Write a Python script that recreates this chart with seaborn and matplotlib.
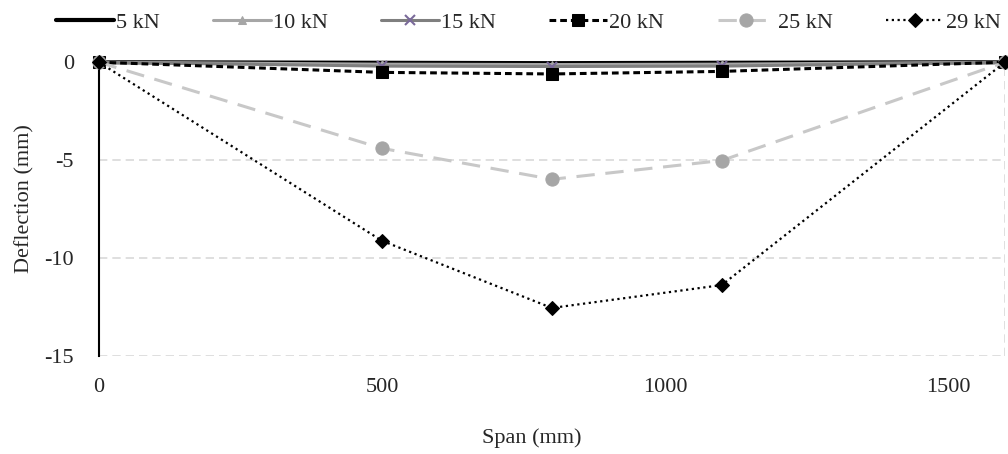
import matplotlib
matplotlib.use("Agg")
import matplotlib.pyplot as plt
import seaborn as sns
import pandas as pd

span_mm = [0, 500, 800, 1100, 1600]
load_labels = ["5 kN", "10 kN", "15 kN", "20 kN", "25 kN", "29 kN"]
defl_5kn = [0, -0.03, -0.05, -0.03, 0]
defl_10kn = [0, -0.10, -0.12, -0.10, 0]
defl_15kn = [0, -0.20, -0.22, -0.20, 0]
defl_20kn = [0, -0.52, -0.60, -0.47, 0]
defl_25kn = [0, -4.40, -5.98, -5.02, 0]
defl_29kn = [0, -9.12, -12.55, -11.38, 0]
x_ticks = [0, 500, 1000, 1500]
y_ticks = [0, -5, -10, -15]

series = [defl_5kn, defl_10kn, defl_15kn, defl_20kn, defl_25kn, defl_29kn]
frame = pd.concat(
    [pd.DataFrame({"Span": span_mm, "Deflection": s, "Load": lab})
     for lab, s in zip(load_labels, series)],
    ignore_index=True,
)

sns.set_style("white")
plt.rcParams["font.family"] = ["Liberation Serif", "DejaVu Serif"]
FS = 16

styles = {
    "5 kN": dict(color="black", linewidth=3.0, linestyle="-", marker=None),
    "10 kN": dict(color="#a6a6a6", linewidth=2.2, linestyle="-", marker="^",
                  markersize=6, markerfacecolor="#a6a6a6", markeredgecolor="#a6a6a6"),
    "15 kN": dict(color="#7f7f7f", linewidth=2.2, linestyle="-", marker="x",
                  markersize=7, markeredgecolor="#7a6a9a", markeredgewidth=1.5),
    "20 kN": dict(color="black", linewidth=2.2, linestyle=(0, (2.2, 1.3)), marker="s",
                  markersize=8.5, markerfacecolor="black", markeredgecolor="black"),
    "25 kN": dict(color="#c8c8c8", linewidth=2.2, linestyle=(0, (6, 3.5)), marker="o",
                  markersize=9.5, markerfacecolor="#a6a6a6", markeredgecolor="#a6a6a6"),
    "29 kN": dict(color="black", linewidth=1.6, linestyle=(0, (1, 1.6)), marker="D",
                  markersize=7, markerfacecolor="black", markeredgecolor="black"),
}

fig = plt.figure(figsize=(10.08, 4.54), dpi=100)
ax = fig.add_axes([0.098, 0.216, 0.899, 0.647])

for lab in load_labels:
    sub = frame[frame["Load"] == lab]
    sns.lineplot(data=sub, x="Span", y="Deflection", ax=ax, label=lab,
                 clip_on=False, zorder=3, **styles[lab])

ax.set_xlim(0, 1600)
ax.set_ylim(-15, 0)
ax.set_xticks(x_ticks)
ax.set_yticks(y_ticks)
ax.set_xticklabels([str(t) for t in x_ticks], fontsize=FS)
ax.set_yticklabels([str(t) for t in y_ticks], fontsize=FS)

for y in [-5, -10, -15]:
    ax.axhline(y, color="#d9d9d9", linewidth=1.2, linestyle=(0, (5, 3)), zorder=1)
ax.axvline(1600, color="#d9d9d9", linewidth=1.2, linestyle=(0, (5, 3)), zorder=1)

for side in ["top", "right", "bottom"]:
    ax.spines[side].set_visible(False)
ax.spines["left"].set_color("black")
ax.spines["left"].set_linewidth(1.5)

ax.tick_params(axis="y", direction="out", length=5, width=1.5, color="black", pad=13)
ax.tick_params(axis="x", length=0, pad=16)

ax.set_xlabel("Span (mm)", fontsize=FS)
ax.set_ylabel("Deflection (mm)", fontsize=FS)
ax.xaxis.set_label_coords(0.478, -0.245)
ax.yaxis.set_label_coords(-0.071, 0.537)

handles, labels = ax.get_legend_handles_labels()
ax.get_legend().remove()
fig.legend(handles, labels, loc="center", bbox_to_anchor=(0.524, 0.951),
           ncol=6, frameon=False, fontsize=FS, handlelength=2.6,
           handletextpad=0.1, columnspacing=2.4)

fig.savefig("out.png", dpi=100)
